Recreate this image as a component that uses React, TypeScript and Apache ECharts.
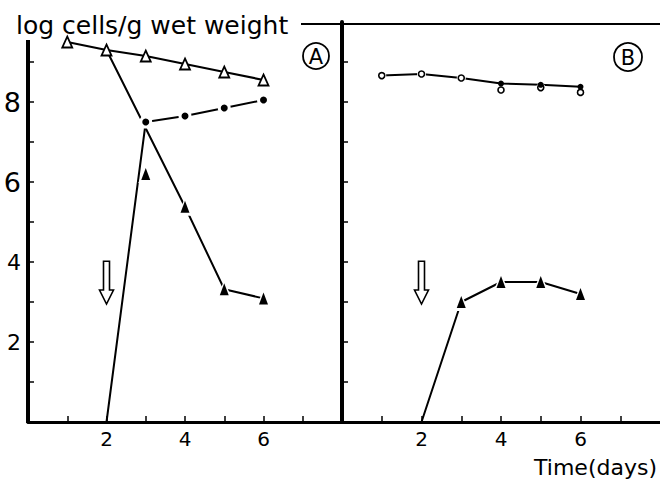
import { useEffect, useRef } from "react";
import * as echarts from "echarts";

// Sampling days and axis labelling
const days = [1, 2, 3, 4, 5, 6];
const lateDays = [3, 4, 5, 6];
const pairedDays = [4, 5, 6];
const inoculationDay = 2;
const xTickValues = [1, 2, 3, 4, 5, 6, 7];
const xTickLabels = [2, 4, 6];
const yTickValues = [1, 2, 3, 4, 5, 6, 7, 8, 9];
const yTickLabels = [2, 4, 6, 8];

// Panel A (log cells/g)
const totalA = [9.5, 9.3, 9.15, 8.95, 8.75, 8.55]; // open triangles, days 1–6
const declineA = [6.2, 5.38, 3.32, 3.09]; // filled triangles, days 3–6
const inoculantA = [7.5, 7.65, 7.85, 8.05]; // filled circles, days 3–6

// Panel B (log cells/g)
const totalB = [8.66, 8.7, 8.6, 8.3, 8.36, 8.24]; // open circles, days 1–6
const inoculantB = [8.46, 8.43, 8.38]; // filled circles, days 4–6
const riseB = [3.0, 3.5, 3.5, 3.2]; // filled triangles, days 3–6

const FONT = "DejaVu Sans";
const INK = "#000";

const pts = (xs: number[], ys: number[]) => xs.map((x, i) => [x, ys[i]]);

function xAxisFor(gridIndex: number) {
  return {
    type: "value" as const,
    gridIndex,
    min: 0,
    max: 8,
    interval: 1,
    axisLine: { show: true, onZero: false, lineStyle: { color: INK, width: 3 } },
    axisTick: {
      show: true,
      inside: true,
      length: 6,
      customValues: xTickValues,
      lineStyle: { color: INK, width: 1.5 },
    },
    axisLabel: {
      show: true,
      customValues: xTickLabels,
      color: INK,
      fontSize: 20,
      fontFamily: FONT,
      margin: 7,
    },
    splitLine: { show: false },
  };
}

function yAxisFor(gridIndex: number, withLabels: boolean, lineShown: boolean) {
  return {
    type: "value" as const,
    gridIndex,
    min: 0,
    max: 10,
    interval: 1,
    axisLine: { show: lineShown, onZero: false, lineStyle: { color: INK, width: 4 } },
    axisTick: {
      show: true,
      inside: true,
      length: 6,
      customValues: yTickValues,
      lineStyle: { color: INK, width: 1.5 },
    },
    axisLabel: {
      show: withLabels,
      customValues: yTickLabels,
      margin: 7,
      formatter: (v: number) => (v >= 6 ? `{big|${v}}` : `{small|${v}}`),
      rich: {
        big: { fontSize: 27, fontFamily: FONT, color: INK },
        small: { fontSize: 22, fontFamily: FONT, color: INK },
      },
    },
    splitLine: { show: false },
  };
}

const plainLine = (g: number, data: number[][]) => ({
  type: "line" as const,
  xAxisIndex: g,
  yAxisIndex: g,
  data,
  symbol: "none",
  z: 2,
  lineStyle: { color: INK, width: 2 },
  silent: true,
});

const markers = (
  g: number,
  data: number[][],
  symbol: string,
  size: number | number[],
  filled: boolean,
  z: number
) => ({
  type: "scatter" as const,
  xAxisIndex: g,
  yAxisIndex: g,
  data,
  symbol,
  symbolSize: size,
  z,
  itemStyle: filled
    ? { color: INK, opacity: 1 }
    : { color: "#fff", borderColor: INK, borderWidth: 1.6, opacity: 1 },
  silent: true,
});

// white rim under filled markers, breaking the joining lines near each point
const halo = (g: number, data: number[][], symbol: string, size: number | number[]) => ({
  type: "scatter" as const,
  xAxisIndex: g,
  yAxisIndex: g,
  data,
  symbol,
  symbolSize: size,
  z: 3,
  itemStyle: { color: "#fff", opacity: 1 },
  silent: true,
});

export default function App() {
  const ref = useRef<HTMLDivElement>(null);

  useEffect(() => {
    if (!ref.current) return;
    const chart = echarts.init(ref.current, null, { renderer: "svg" });

    const declineLineA = [[inoculationDay, totalA[1]], ...pts(lateDays.slice(1), declineA.slice(1))];
    const riseLineA = [[inoculationDay, 0], ...pts(lateDays, inoculantA)];
    const totalLineB = [...pts(days.slice(0, 3), totalB.slice(0, 3)), ...pts(pairedDays, inoculantB)];
    const riseLineB = [[inoculationDay, 0], ...pts(lateDays, riseB)];

    chart.setOption({
      animation: false,
      backgroundColor: "#fff",
      grid: [
        { left: 28, top: 22, width: 314, height: 400 },
        { left: 342, top: 22, width: 318, height: 400 },
      ],
      xAxis: [xAxisFor(0), xAxisFor(1)],
      yAxis: [yAxisFor(0, true, false), yAxisFor(1, false, true)],
      series: [
        // Panel A
        {
          type: "line",
          xAxisIndex: 0,
          yAxisIndex: 0,
          data: pts(days, totalA),
          symbol: "triangle",
          symbolSize: [10, 11],
          z: 4,
          itemStyle: { color: "#fff", borderColor: INK, borderWidth: 1.8 },
          lineStyle: { color: INK, width: 2.2 },
          silent: true,
        },
        plainLine(0, declineLineA),
        plainLine(0, riseLineA),
        halo(0, pts(lateDays, declineA), "triangle", [15, 18]),
        halo(0, pts(lateDays, inoculantA), "circle", 13),
        markers(0, pts(lateDays, declineA), "triangle", [9, 12], true, 5),
        markers(0, pts(lateDays, inoculantA), "circle", 7, true, 5),
        // Panel B
        plainLine(1, totalLineB),
        plainLine(1, riseLineB),
        halo(1, pts(lateDays, riseB), "triangle", [15, 18]),
        halo(1, pts(days, totalB), "circle", 9),
        markers(1, pts(days, totalB), "circle", 6, false, 5),
        markers(1, pts(pairedDays, inoculantB), "circle", 6, true, 6),
        markers(1, pts(lateDays, riseB), "triangle", [9, 12], true, 5),
      ],
    });

    const px = (g: number, x: number, y: number) =>
      chart.convertToPixel({ gridIndex: g }, [x, y]) as number[];

    // hollow downward arrow marking the day of inoculation
    const arrow = (g: number) => {
      const [cx, top] = px(g, inoculationDay, 4.02);
      const [, tip] = px(g, inoculationDay, 2.95);
      const neck = tip - 14;
      return {
        type: "polygon",
        shape: {
          points: [
            [cx - 3, top],
            [cx + 3, top],
            [cx + 3, neck],
            [cx + 7, neck],
            [cx, tip],
            [cx - 7, neck],
            [cx - 3, neck],
          ],
        },
        style: { fill: "#fff", stroke: INK, lineWidth: 1.6 },
        z: 10,
      };
    };

    const circled = (label: string, cx: number, cy: number, r: number) => [
      {
        type: "circle",
        shape: { cx, cy, r },
        style: { fill: "none", stroke: INK, lineWidth: 1.8 },
        z: 10,
      },
      {
        type: "text",
        x: cx,
        y: cy + 1,
        style: {
          text: label,
          fontSize: 21,
          fontFamily: FONT,
          fill: INK,
          align: "center",
          verticalAlign: "middle",
        },
        z: 10,
      },
    ];

    const [axX, axTop] = px(0, 0, 9.55);
    const [, axBottom] = px(0, 0, 0);

    chart.setOption({
      graphic: [
        {
          type: "line",
          shape: { x1: axX, y1: axTop, x2: axX, y2: axBottom + 1 },
          style: { stroke: INK, lineWidth: 4 },
          z: 10,
        },
        {
          type: "line",
          shape: { x1: 301, y1: 24, x2: 660, y2: 24 },
          style: { stroke: INK, lineWidth: 2 },
          z: 10,
        },
        {
          type: "text",
          x: 16,
          y: 25,
          style: {
            text: "log cells/g wet weight",
            fontSize: 25,
            fontFamily: FONT,
            fill: INK,
            align: "left",
            verticalAlign: "middle",
          },
          z: 10,
        },
        {
          type: "text",
          x: 657,
          y: 467,
          style: {
            text: "Time(days)",
            fontSize: 22,
            fontFamily: FONT,
            fill: INK,
            align: "right",
            verticalAlign: "middle",
          },
          z: 10,
        },
        arrow(0),
        arrow(1),
        ...circled("A", 316, 56, 13),
        ...circled("B", 628, 57, 14),
      ],
    });

    return () => chart.dispose();
  }, []);

  return (
    <div
      ref={ref}
      style={{ width: 660, height: 482, position: "absolute", left: 0, top: 0 }}
    />
  );
}
